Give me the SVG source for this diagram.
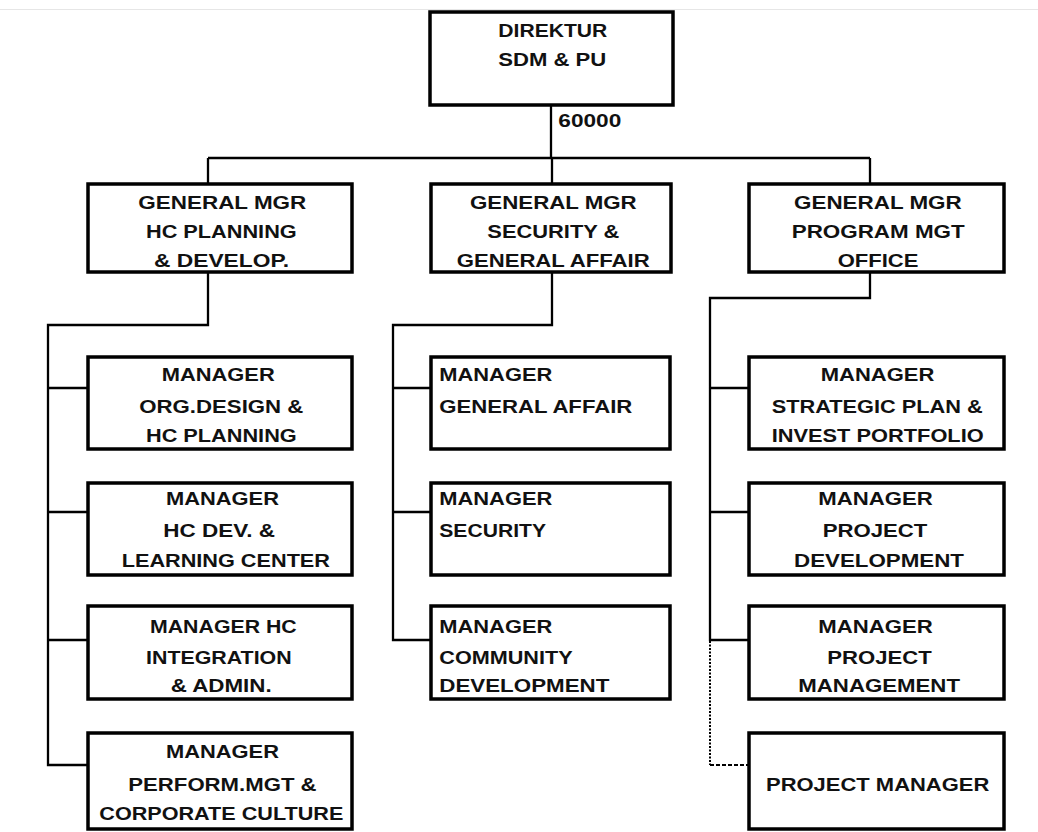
<svg xmlns="http://www.w3.org/2000/svg" width="1038" height="832" viewBox="0 0 1038 832">
<style>
.box{fill:#fff;stroke:#000;stroke-width:3.5}
.ln{fill:none;stroke:#000;stroke-width:2.3}
.dot{fill:none;stroke:#000;stroke-width:2;stroke-dasharray:2 1.5}
.dash{fill:none;stroke:#000;stroke-width:2;stroke-dasharray:4 2}
text{font-family:"Liberation Sans",Arial,sans-serif;font-weight:bold;font-size:18px;fill:#111}
</style>
<rect x="0" y="0" width="1038" height="832" fill="#fff"/>
<line x1="0" y1="9.5" x2="1038" y2="9.5" stroke="#e6e6e6" stroke-width="1"/>
<g id="connectors">
<path class="ln" d="M551 105V158M208 158H870M208 158V184M552 158V184M870 158V184"/>
<path class="ln" d="M208 272V325H48V765H88M48 388H88M48 512H88M48 640H88"/>
<path class="ln" d="M552 272V325H393V640H431M393 388H431M393 512H431"/>
<path class="ln" d="M870 272V298H710V640H749M710 388H749M710 512H749"/>
<path class="dot" d="M710 641V765"/>
<path class="dash" d="M710 765H749"/>
<text x="558.3" y="126.7" textLength="63" lengthAdjust="spacingAndGlyphs">60000</text>
</g>
<g id="direktur">
<rect class="box" x="430" y="12" width="243" height="93"/>
<text x="498.3" y="37.3" textLength="109" lengthAdjust="spacingAndGlyphs">DIREKTUR</text>
<text x="498.3" y="65.7" textLength="108" lengthAdjust="spacingAndGlyphs">SDM &amp; PU</text>
</g>
<g id="gm-hc">
<rect class="box" x="88" y="184" width="264" height="88"/>
<text x="138.3" y="209" textLength="168" lengthAdjust="spacingAndGlyphs">GENERAL MGR</text>
<text x="146" y="238" textLength="150.7" lengthAdjust="spacingAndGlyphs">HC PLANNING</text>
<text x="154" y="267" textLength="135" lengthAdjust="spacingAndGlyphs">&amp; DEVELOP.</text>
</g>
<g id="gm-security">
<rect class="box" x="431" y="184" width="240" height="88"/>
<text x="470" y="209" textLength="166.7" lengthAdjust="spacingAndGlyphs">GENERAL MGR</text>
<text x="487.3" y="238" textLength="132" lengthAdjust="spacingAndGlyphs">SECURITY &amp;</text>
<text x="456.7" y="267" textLength="193" lengthAdjust="spacingAndGlyphs">GENERAL AFFAIR</text>
</g>
<g id="gm-pmo">
<rect class="box" x="749" y="184" width="255" height="88"/>
<text x="794" y="209" textLength="167.7" lengthAdjust="spacingAndGlyphs">GENERAL MGR</text>
<text x="791.7" y="238" textLength="173" lengthAdjust="spacingAndGlyphs">PROGRAM MGT</text>
<text x="837.7" y="267" textLength="80.7" lengthAdjust="spacingAndGlyphs">OFFICE</text>
</g>
<g id="mgr-orgdesign">
<rect class="box" x="88" y="357" width="264" height="92"/>
<text x="161.7" y="380.7" textLength="113" lengthAdjust="spacingAndGlyphs">MANAGER</text>
<text x="139.3" y="413.3" textLength="164" lengthAdjust="spacingAndGlyphs">ORG.DESIGN &amp;</text>
<text x="146" y="441.7" textLength="150.7" lengthAdjust="spacingAndGlyphs">HC PLANNING</text>
</g>
<g id="mgr-hcdev">
<rect class="box" x="88" y="483" width="264" height="92"/>
<text x="166" y="505" textLength="113" lengthAdjust="spacingAndGlyphs">MANAGER</text>
<text x="163.3" y="537.3" textLength="111.7" lengthAdjust="spacingAndGlyphs">HC DEV. &amp;</text>
<text x="121.7" y="566.7" textLength="208.3" lengthAdjust="spacingAndGlyphs">LEARNING CENTER</text>
</g>
<g id="mgr-hcint">
<rect class="box" x="88" y="606" width="264" height="93"/>
<text x="150" y="633.3" textLength="146.7" lengthAdjust="spacingAndGlyphs">MANAGER HC</text>
<text x="146" y="664" textLength="145.7" lengthAdjust="spacingAndGlyphs">INTEGRATION</text>
<text x="170.7" y="691.7" textLength="101" lengthAdjust="spacingAndGlyphs">&amp; ADMIN.</text>
</g>
<g id="mgr-perform">
<rect class="box" x="88" y="733" width="264" height="96"/>
<text x="166" y="758.3" textLength="113" lengthAdjust="spacingAndGlyphs">MANAGER</text>
<text x="128.3" y="790.7" textLength="188.3" lengthAdjust="spacingAndGlyphs">PERFORM.MGT &amp;</text>
<text x="99.3" y="820" textLength="244" lengthAdjust="spacingAndGlyphs">CORPORATE CULTURE</text>
</g>
<g id="mgr-ga">
<rect class="box" x="431" y="357" width="239" height="92"/>
<text x="439.3" y="380.7" textLength="113" lengthAdjust="spacingAndGlyphs">MANAGER</text>
<text x="439.3" y="413" textLength="193" lengthAdjust="spacingAndGlyphs">GENERAL AFFAIR</text>
</g>
<g id="mgr-security">
<rect class="box" x="431" y="483" width="239" height="92"/>
<text x="439.3" y="505" textLength="113" lengthAdjust="spacingAndGlyphs">MANAGER</text>
<text x="439.3" y="537.3" textLength="106.7" lengthAdjust="spacingAndGlyphs">SECURITY</text>
</g>
<g id="mgr-community">
<rect class="box" x="431" y="606" width="239" height="93"/>
<text x="439.3" y="632.7" textLength="113" lengthAdjust="spacingAndGlyphs">MANAGER</text>
<text x="439.3" y="664" textLength="133.3" lengthAdjust="spacingAndGlyphs">COMMUNITY</text>
<text x="439.3" y="691.7" textLength="170" lengthAdjust="spacingAndGlyphs">DEVELOPMENT</text>
</g>
<g id="mgr-strategic">
<rect class="box" x="749" y="357" width="255" height="92"/>
<text x="820.7" y="380.7" textLength="113.6" lengthAdjust="spacingAndGlyphs">MANAGER</text>
<text x="771.7" y="413" textLength="211" lengthAdjust="spacingAndGlyphs">STRATEGIC PLAN &amp;</text>
<text x="771.7" y="441.7" textLength="212" lengthAdjust="spacingAndGlyphs">INVEST PORTFOLIO</text>
</g>
<g id="mgr-projdev">
<rect class="box" x="749" y="483" width="255" height="92"/>
<text x="818.3" y="505" textLength="114.4" lengthAdjust="spacingAndGlyphs">MANAGER</text>
<text x="822.7" y="537.3" textLength="104.7" lengthAdjust="spacingAndGlyphs">PROJECT</text>
<text x="794" y="566.7" textLength="170" lengthAdjust="spacingAndGlyphs">DEVELOPMENT</text>
</g>
<g id="mgr-projmgt">
<rect class="box" x="749" y="606" width="255" height="93"/>
<text x="818.3" y="632.7" textLength="114.4" lengthAdjust="spacingAndGlyphs">MANAGER</text>
<text x="827.3" y="664" textLength="104.4" lengthAdjust="spacingAndGlyphs">PROJECT</text>
<text x="798.3" y="691.7" textLength="161.7" lengthAdjust="spacingAndGlyphs">MANAGEMENT</text>
</g>
<g id="project-manager">
<rect class="box" x="749" y="733" width="255" height="96"/>
<text x="766" y="790.7" textLength="223.3" lengthAdjust="spacingAndGlyphs">PROJECT MANAGER</text>
</g>
</svg>
